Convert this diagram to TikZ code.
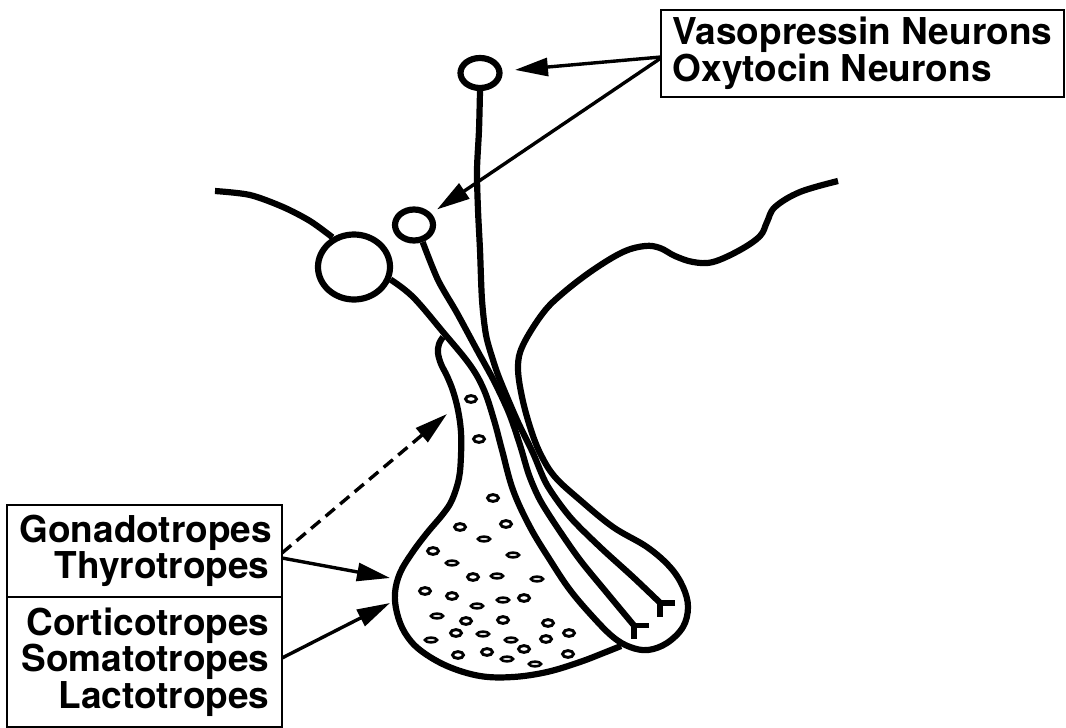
\documentclass[tikz,border=0pt]{standalone}
\usepackage{fontspec}
\setmainfont{TeX Gyre Heros}
\usetikzlibrary{arrows.meta,shapes.geometric}

\begin{document}
\begin{tikzpicture}[x=1pt,y=-1pt,
  outline/.style={line width=6.2pt, line join=round},
  soma/.style={ellipse, draw, line width=6.2pt, inner sep=0pt},
  cell/.style={ellipse, draw, line width=2.9pt, inner sep=0pt, minimum width=11pt, minimum height=6.8pt},
  flatcell/.style={cell, line width=2.6pt, minimum width=12pt, minimum height=4.6pt},
  pointer/.style={line width=3.4pt, -{Triangle[length=33pt,width=18pt]}},
  labelbox/.style={draw, line width=2.6pt, outer sep=0pt, inner sep=0pt,
    font=\bfseries\fontsize{37}{36.5}\selectfont},
  terminal/.style={line width=5.6pt, line join=miter, line cap=butt},
]
\useasboundingbox (0,0) rectangle (1066,728);

% cell bodies of the neurons
\node[soma, minimum width=72pt, minimum height=65pt] (big) at (354,267) {};
\node[soma, minimum width=38pt, minimum height=31pt] (n2) at (414,225) {};
\node[soma, minimum width=39pt, minimum height=30pt] (n1) at (480,73) {};

% labels
\node[labelbox, align=left, minimum width=403pt, minimum height=87pt, anchor=north west]
  (vbox) at (661,10) {Vasopressin Neurons\\Oxytocin Neurons};
\node[labelbox, align=right, text width=250pt, inner xsep=12.5pt, minimum height=92pt, anchor=north west]
  (gbox) at (7,505) {Gonadotropes\\Thyrotropes};
\node[labelbox, align=right, text width=250pt, inner xsep=12.5pt, minimum height=130pt, anchor=north west]
  (cbox) at (gbox.south west) {Corticotropes\\Somatotropes\\Lactotropes};

% brain outline, left part
\draw[outline] plot[smooth] coordinates {(215,191) (250,195) (283,207) (310,221) (big.126)};

% stalk and posterior lobe, continuing into the right brain outline
\draw[outline] plot[smooth, tension=0.6] coordinates {
  (big.-19) (413,297) (443,332) (470,365) (484,390) (494,420) (502,450) (513,490)
  (530,527) (550,560) (570,590) (593,617) (613,637) (630,647) (648,650) (667,643)
  (683,627) (688,607) (683,587) (670,567) (647,547) (613,527) (580,500) (555,477)
  (541,455) (531,430) (522,397) (518,367) (523,345) (543,313) (563,293) (593,270)
  (623,252) (645,246) (660,248) (675,256) (693,262) (713,262) (740,250) (760,236)
  (767,222) (775,207) (800,192) (838,181)};

% anterior lobe
\draw[outline] plot[smooth, tension=0.6] coordinates {
  (443,337) (439,344) (438,353) (441,364) (447,376) (453,391) (458,410) (461,432)
  (461,455) (459,478) (452,500) (443,514) (427,533) (412,553) (400,573) (395,593)
  (397,613) (405,633) (420,650) (447,666) (480,676) (513,677) (547,672) (580,662)
  (606,652) (621,646)};

% axons
\coordinate (endA) at (634,625.5);
\coordinate (endB) at (660,602.7);
\draw[outline] plot[smooth] coordinates {
  (n2.-63) (438,280) (457,313) (477,350) (494,381) (509,413) (520,445) (529,475)
  (540,500) (557,527) (580,560) (607,593) (endA)};
\draw[outline] plot[smooth] coordinates {
  (n1.south) (479,130) (477,170) (478,210) (480,250) (482,300) (486,335) (493,360)
  (500,380) (517,420) (533,453) (547,485) (570,517) (600,547) (633,577) (endB)};

% axon terminals
\draw[terminal] ([xshift=15pt]endA) -- (endA) -- ([yshift=-13.5pt]endA);
\draw[terminal] ([xshift=15pt]endB) -- (endB) -- ([yshift=-14.5pt]endB);

% secretory cells of the anterior lobe
\foreach \x/\y [count=\i] in {471/399, 479/439, 493/498, 460/527, 506/524, 433/551,
  473/577, 425/591, 452/596, 524/598, 466/621, 503/620, 548/623, 456/633, 546/639,
  569/633, 524/649, 487/652, 458/655, 568/654}
  \node[cell] (cell\i) at (\x,\y) {};
\foreach \x/\y [count=\i] in {484/539, 513/555, 452/563, 497/576, 537/579, 477/606,
  503/600, 437/616, 483/634, 511/640, 431/640, 507/659, 535/664}
  \node[flatcell] (flat\i) at (\x,\y) {};

% pointers from the labels
\coordinate (dtip) at (447,414);
\coordinate (gtip) at (390,578);
\coordinate (ctip) at (390,603);
\draw[pointer, shorten >=12.5pt] ([yshift=-3.5pt]vbox.west) -- (n1);
\draw[pointer, shorten >=7pt] ([yshift=-4.5pt]vbox.west) -- (n2);
\draw[pointer, dash pattern=on 12pt off 7pt] ([yshift=-2pt]gbox.east) -- (dtip);
\draw[pointer] ([yshift=-7pt]gbox.east) -- (gtip);
\draw[pointer] ([yshift=4pt]cbox.east) -- (ctip);
\end{tikzpicture}
\end{document}
